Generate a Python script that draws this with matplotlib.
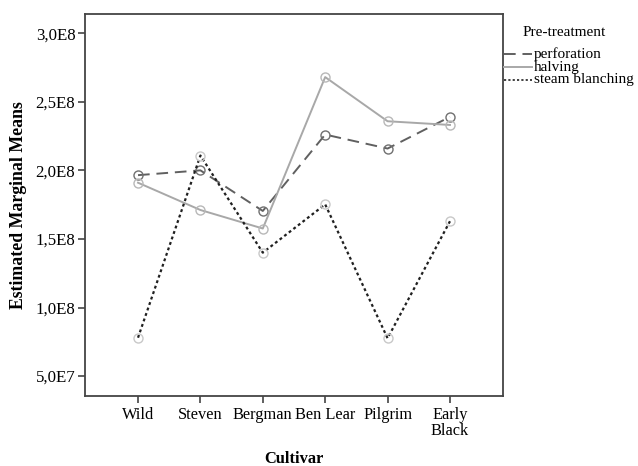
import numpy as np
import matplotlib
matplotlib.use("Agg")
import matplotlib.pyplot as plt
import matplotlib as mpl

mpl.rcParams['font.family'] = 'serif'
mpl.rcParams['font.serif'] = ['Liberation Serif', 'DejaVu Serif']

cultivars = ["Wild", "Steven", "Bergman", "Ben Lear", "Pilgrim", "Early\nBlack"]
perforation = [1.965e8, 2.00e8, 1.704e8, 2.261e8, 2.159e8, 2.39e8]
halving = [1.91e8, 1.711e8, 1.576e8, 2.68e8, 2.358e8, 2.331e8]
steam_blanching = [7.8e7, 2.108e8, 1.40e8, 1.752e8, 7.76e7, 1.629e8]

ytick_vals = [5.0e7, 1.0e8, 1.5e8, 2.0e8, 2.5e8, 3.0e8]
ytick_labels = ["5,0E7", "1,0E8", "1,5E8", "2,0E8", "2,5E8", "3,0E8"]

fig = plt.figure(figsize=(6.38, 4.66), dpi=100)
ax = fig.add_axes((0.1332, 0.1502, 0.6552, 0.8198))

x = np.arange(len(cultivars))

ax.plot(x, perforation, color='#606060', lw=1.4, dashes=(6, 3.5),
        marker='o', ms=6.5, mfc='none', mec='#707070', mew=1.0, label='perforation')
ax.plot(x, halving, color='#a8a8a8', lw=1.4, ls='-',
        marker='o', ms=6.5, mfc='none', mec='#b8b8b8', mew=1.0, label='halving')
ax.plot(x, steam_blanching, color='#202020', lw=1.6, dashes=(1.3, 1.3),
        marker='o', ms=6.5, mfc='none', mec='#c8c8c8', mew=1.0, label='steam blanching')

ax.set_xlim(-0.85, 5.85)
ax.set_ylim(3.55e7, 3.14e8)
ax.set_xticks(x)
ax.set_xticklabels(cultivars, fontsize=11.8, linespacing=0.95)
ax.set_yticks(ytick_vals)
ax.set_yticklabels(ytick_labels, fontsize=12.2)
ax.tick_params(direction='out', length=5, width=1.2, color='#444444', pad=2)
ax.tick_params(axis='x', pad=3)

for s in ax.spines.values():
    s.set_linewidth(1.3)
    s.set_color('#444444')

ax.set_xlabel("Cultivar", fontsize=11.8, fontweight='bold', va='center')
ax.xaxis.set_label_coords(0.5, -0.165)
ax.set_ylabel("Estimated Marginal Means", fontsize=12.8, fontweight='bold', labelpad=6)

# legend outside on the right
fig.text(564/638, 1 - 32/466, "Pre-treatment", fontsize=11, ha='center', va='center')
leg_y = [54, 67, 80]
styles = [dict(color='#606060', lw=1.4, dashes=(6, 3.5)),
          dict(color='#a8a8a8', lw=1.4, ls='-'),
          dict(color='#202020', lw=1.2, dashes=(1.3, 1.3))]
names = ['perforation', 'halving', 'steam blanching']
for yy, st, nm in zip(leg_y, styles, names):
    fy = 1 - yy / 466
    fig.add_artist(mpl.lines.Line2D([504/638, 532/638], [fy, fy], transform=fig.transFigure, **st))
    fig.text(534/638, fy, nm, fontsize=11, ha='left', va='center')

fig.savefig("out.png", dpi=100)
